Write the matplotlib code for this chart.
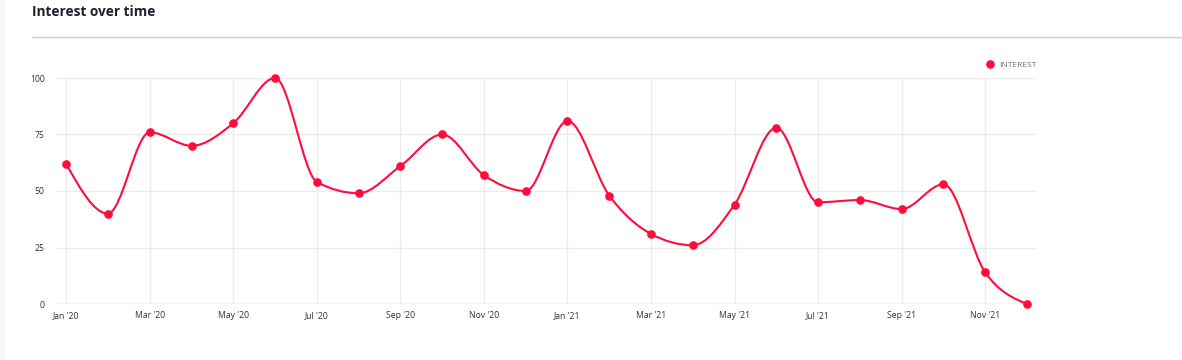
import numpy as np
import matplotlib
matplotlib.use('Agg')
import matplotlib.pyplot as plt
from matplotlib.path import Path
from matplotlib.patches import PathPatch, Rectangle
from matplotlib.lines import Line2D

plt.rcParams['font.family'] = ['Open Sans', 'DejaVu Sans']

# Monthly interest values, Jan '20 .. Dec '21
months = ["Jan '20", "Feb '20", "Mar '20", "Apr '20", "May '20", "Jun '20",
          "Jul '20", "Aug '20", "Sep '20", "Oct '20", "Nov '20", "Dec '20",
          "Jan '21", "Feb '21", "Mar '21", "Apr '21", "May '21", "Jun '21",
          "Jul '21", "Aug '21", "Sep '21", "Oct '21", "Nov '21", "Dec '21"]
interest = [62, 40, 76, 70, 80, 100, 54, 49, 61, 75, 57, 50,
            81, 48, 31, 26, 44, 78, 45, 46, 42, 53, 14, 0]
y_ticks = [0, 25, 50, 75, 100]

RED = '#ff0c3c'
GRID = '#ececec'
TXT = '#2e3142'


def monotone_path(x, y):
    # smooth curve through the points (monotone cubic, like the web chart)
    x = np.asarray(x, float)
    y = np.asarray(y, float)
    h = np.diff(x)
    s = np.diff(y) / h
    t = np.zeros(len(x))
    for i in range(1, len(x) - 1):
        p = (s[i - 1] * h[i] + s[i] * h[i - 1]) / (h[i - 1] + h[i])
        t[i] = (np.sign(s[i - 1]) + np.sign(s[i])) * min(abs(s[i - 1]), abs(s[i]), 0.5 * abs(p))
    t[0] = (3 * s[0] - t[1]) / 2
    t[-1] = (3 * s[-1] - t[-2]) / 2
    verts = [(x[0], y[0])]
    codes = [Path.MOVETO]
    for i in range(len(x) - 1):
        d = h[i] / 3
        verts += [(x[i] + d, y[i] + d * t[i]),
                  (x[i + 1] - d, y[i + 1] - d * t[i + 1]),
                  (x[i + 1], y[i + 1])]
        codes += [Path.CURVE4] * 3
    return Path(verts, codes)


fig = plt.figure(figsize=(11.82, 3.6), dpi=100)
fig.patch.set_facecolor('white')

# faint left strip and header
fig.add_artist(Rectangle((0, 0), 5 / 1182, 1, transform=fig.transFigure,
                         color='#f7f7f7', lw=0))
fig.text(32 / 1182, 1 - 12 / 360, 'Interest over time', fontsize=9.8,
         fontweight='bold', color='#1e1e2d', va='center', ha='left')
fig.add_artist(Line2D([32 / 1182, 1], [1 - 37 / 360] * 2,
                      transform=fig.transFigure, color='#cccccc', lw=1))

ax = fig.add_axes([57 / 1182, 1 - 304 / 360, 980 / 1182, 226 / 360])
xs = np.arange(len(months))

ax.add_patch(PathPatch(monotone_path(xs, interest), fill=False,
                       edgecolor=RED, lw=1.5, zorder=3, clip_on=False))
ax.plot(xs, interest, 'o', color=RED, markersize=5.2, zorder=4,
        clip_on=False, label='INTEREST')

ax.set_xlim(-0.22, 23.24)
ax.set_ylim(0, 100)
ax.set_xticks(xs[::2])
ax.set_xticklabels(months[::2])
ax.set_yticks(y_ticks)
ax.set_yticklabels([str(v) for v in y_ticks])
ax.tick_params(axis='both', length=0, labelsize=6.2, colors=TXT)
ax.tick_params(axis='x', pad=5)
ax.tick_params(axis='y', pad=9)
ax.grid(True, color=GRID, lw=1)
ax.set_axisbelow(True)
for sp in ax.spines.values():
    sp.set_visible(False)
ax.axhline(0, color='#e0e0e0', lw=1, zorder=1)

leg = ax.legend(loc='center right', bbox_to_anchor=(1.0, 1.0 + 13 / 226),
                frameon=False, fontsize=6, handletextpad=0.1,
                borderpad=0, borderaxespad=0, markerscale=1.0)
for t in leg.get_texts():
    t.set_color('#707070')

fig.savefig('out.png', dpi=100, facecolor='white')
